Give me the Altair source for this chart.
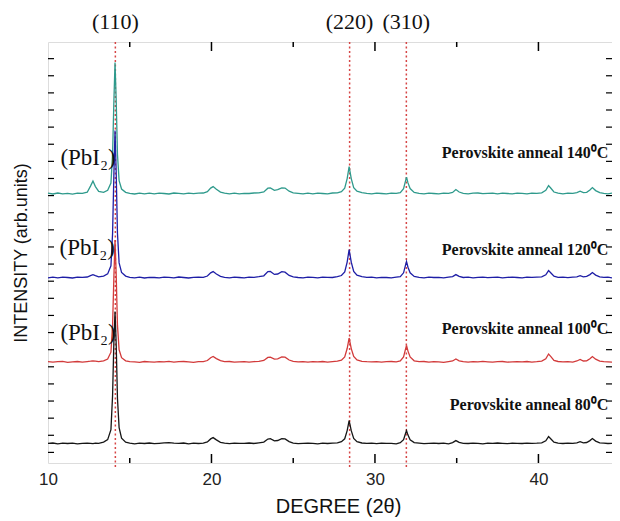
import altair as alt
import pandas as pd

# ---------------- data ----------------
X_DEG = [
    10.0, 10.3, 10.6, 10.9, 11.2, 11.5, 11.8, 12.1, 12.4, 12.6,
    12.75, 12.9, 13.1, 13.4, 13.65, 13.85, 13.95, 14.03, 14.1, 14.17,
    14.25, 14.35, 14.5, 14.75, 15.0, 15.3, 15.6, 15.9, 16.2, 16.5,
    16.8, 17.1, 17.4, 17.7, 18.0, 18.3, 18.6, 18.9, 19.2, 19.5,
    19.75, 19.95, 20.1, 20.3, 20.55, 20.8, 21.1, 21.4, 21.7, 22.0,
    22.3, 22.6, 22.9, 23.2, 23.45, 23.6, 23.85, 24.05, 24.3, 24.5,
    24.75, 25.0, 25.3, 25.6, 25.9, 26.2, 26.5, 26.8, 27.1, 27.4,
    27.7, 27.95, 28.15, 28.3, 28.42, 28.55, 28.7, 28.9, 29.2, 29.5,
    29.8, 30.1, 30.4, 30.7, 31.0, 31.3, 31.55, 31.75, 31.85, 31.93,
    32.02, 32.15, 32.4, 32.7, 33.0, 33.3, 33.6, 33.9, 34.2, 34.5,
    34.75, 34.95, 35.15, 35.4, 35.7, 36.0, 36.3, 36.6, 36.9, 37.2,
    37.5, 37.8, 38.1, 38.4, 38.7, 39.0, 39.3, 39.6, 39.9, 40.2,
    40.45, 40.62, 40.75, 40.95, 41.2, 41.5, 41.8, 42.1, 42.35, 42.55,
    42.75, 42.95, 43.15, 43.3, 43.5, 43.75, 44.0, 44.25, 44.5, 45.0,
]

I_80 = [
    0.2, 0.6, -0.3, 0.4, 0.1, 0.5, -0.2, 0.3, 0.4, 0.2,
    -0.1, 0.5, 0.3, 1.5, 4.0, 14, 48, 102, 132, 100,
    45, 16, 5.5, 1.5, 0.5, -0.2, 0.4, 0.1, 0.6, -0.1,
    0.3, 0.8, 1.0, 0.5, 0.2, 0.6, -0.2, 0.4, 0.1, 0.5,
    1.7, 4.7, 6.0, 3.7, 1.3, 0.4, -0.1, 0.5, 0.2, 0.3,
    0.6, 0.1, 0.8, 1.5, 4.6, 4.9, 2.7, 3.1, 5.0, 4.7,
    2.0, 0.5, -0.1, 0.3, 0.5, 0.2, -0.2, 0.4, 0.1, 0.5,
    0.8, 1.9, 4.8, 13, 23, 12.9, 5.2, 2.0, 0.6, 0.2,
    0.4, -0.1, 0.5, 0.2, 0.3, -0.2, 0.9, 4.0, 9.1, 13,
    8.5, 3.9, 1.0, 0.4, -0.1, 0.3, 0.5, 0.1, 0.4, -0.2,
    1.0, 3.0, 1.2, 0.3, 0.1, 0.5, 0.2, -0.2, 0.4, 0.3,
    0.6, 0.2, -0.1, 0.4, 0.3, 0.1, 0.5, 0.2, 0.4, 0.8,
    2.8, 7.0, 4.9, 1.4, 0.4, 0.1, 0.5, 0.2, 0.8, 2.0,
    0.8, 1.1, 3.0, 5.0, 2.5, 0.7, 0.4, 0.1, 0.3, 0.2,
]

I_100 = [
    0.4, -0.2, 0.3, 0.6, -0.3, 0.2, 0.5, -0.1, 0.4, 0.8,
    1.2, 0.9, 0.3, 1.2, 3.0, 9.8, 36.6, 85, 122, 88,
    36.6, 12.2, 4.3, 1.2, 0.4, 0.1, -0.3, 0.5, 0.2, -0.2,
    0.4, 0.1, 0.6, -0.2, 0.3, 0.5, 0.1, -0.3, 0.4, 0.3,
    1.5, 4.3, 5.5, 3.4, 1.3, 0.3, 0.5, -0.2, 0.2, 0.4,
    -0.1, 0.4, 0.7, 1.5, 4.6, 4.8, 2.8, 3.2, 5.0, 4.8,
    2.0, 0.6, 0.2, 0.4, -0.2, 0.3, 0.1, 0.5, -0.2, 0.4,
    0.8, 1.9, 5.0, 13.5, 24, 13.4, 5.5, 2.1, 0.7, 0.3,
    0.1, 0.4, -0.2, 0.3, 0.5, 0.1, 1.0, 5.1, 11.7, 16.7,
    10.9, 5.0, 1.2, 0.3, 0.5, -0.1, 0.3, 0.2, -0.3, 0.4,
    1.0, 3.0, 1.2, 0.3, -0.2, 0.4, 0.1, 0.6, 0.2, -0.1,
    0.3, 0.5, -0.2, 0.2, 0.4, 0.1, 0.5, -0.1, 0.3, 0.9,
    3.2, 8.0, 5.6, 1.6, 0.5, 0.2, 0.4, -0.1, 1.0, 2.5,
    1.0, 1.2, 3.3, 5.5, 2.8, 0.8, 0.4, 0.1, -0.2, 0.3,
]

I_120 = [
    -0.3, 0.5, -0.2, 0.4, 0.1, -0.4, 0.5, 0.3, 0.6, 2.0,
    3.0, 2.0, 0.8, 1.5, 3.7, 11.8, 44, 103, 147, 106,
    44, 14.7, 5.1, 1.5, 0.3, -0.2, 0.4, -0.4, 0.3, 0.1,
    -0.3, 0.5, 0.2, -0.2, 0.6, 0.1, -0.4, 0.3, 0.5, 0.2,
    1.6, 4.8, 6.0, 3.6, 1.2, 0.2, -0.3, 0.4, 0.1, -0.2,
    0.5, 0.3, 0.9, 1.8, 6.0, 6.2, 3.2, 3.6, 5.9, 5.4,
    2.2, 0.7, 0.1, -0.3, 0.4, 0.2, -0.2, 0.5, 0.3, 0.1,
    0.9, 2.1, 5.6, 15.5, 28, 15.4, 6.2, 2.4, 0.9, 0.2,
    0.5, -0.2, 0.3, 0.1, -0.3, 0.4, 0.9, 4.8, 11.2, 16,
    10.4, 4.8, 1.1, 0.3, -0.2, 0.5, 0.1, 0.3, -0.3, 0.4,
    1.0, 3.0, 1.2, 0.1, 0.4, -0.2, 0.3, 0.5, -0.1, 0.2,
    0.4, -0.3, 0.2, 0.5, 0.1, -0.2, 0.4, 0.2, 0.5, 0.7,
    2.8, 7.0, 4.9, 1.4, 0.3, 0.5, -0.1, 0.4, 0.8, 2.0,
    0.8, 1.2, 3.0, 5.0, 2.5, 0.8, 0.2, 0.4, -0.2, 0.3,
]

I_140 = [
    0.5, -0.4, 0.6, -0.2, 0.3, -0.5, 0.4, 0.2, 1.4, 7.5,
    12.5, 7.0, 2.2, 1.3, 3.3, 10.5, 39, 92, 131, 94,
    39, 13, 4.6, 1.3, 0.2, -0.4, 0.5, -0.3, 0.4, -0.2,
    0.5, 0.1, -0.4, 0.6, 0.2, -0.3, 0.5, -0.1, 0.4, 0.6,
    2.0, 5.5, 7.0, 4.3, 1.5, 0.4, -0.2, 0.5, -0.3, 0.3,
    0.1, 0.6, 0.8, 1.7, 5.4, 5.6, 3.3, 3.9, 5.8, 5.5,
    2.4, 0.8, 0.3, -0.3, 0.4, -0.2, 0.5, 0.1, -0.3, 0.6,
    0.8, 2.0, 5.4, 15, 27, 15, 6.0, 2.4, 1.0, 0.3,
    -0.2, 0.5, 0.1, -0.3, 0.4, 0.2, 1.0, 5.0, 11.5, 16.5,
    10.7, 5.0, 1.2, 0.2, -0.3, 0.4, 0.1, -0.2, 0.5, 0.3,
    1.2, 4.0, 1.6, 0.2, -0.3, 0.4, 0.6, -0.1, 0.3, 0.5,
    -0.2, 0.4, 0.1, -0.3, 0.5, 0.2, -0.2, 0.4, 0.3, 0.8,
    3.2, 8.0, 5.6, 1.6, 0.4, -0.2, 0.5, 0.3, 1.0, 2.5,
    1.0, 1.3, 3.6, 6.0, 3.0, 0.9, 0.3, -0.2, 0.4, 0.1,
]

SAMPLES = ["Perovskite anneal 80⁰C", "Perovskite anneal 100⁰C",
           "Perovskite anneal 120⁰C", "Perovskite anneal 140⁰C"]
OFFSETS = [19.4, 101.0, 185.4, 269.4]
COLORS = ["#161616", "#d23a3a", "#1e1ea6", "#2f9a8c"]
SAMPLE_LABEL_X = [44.28, 44.28, 44.28, 44.28]
SAMPLE_LABEL_Y = [57.7, 134.4, 212.7, 309.7]

HKL_POS = [14.12, 28.45, 31.92]
HKL_LABELS = ["(110)", "(220)", "(310)"]

PBI2_LABELS = ["(PbI₂)", "(PbI₂)", "(PbI₂)"]
PBI2_X = [12.45, 12.4, 12.45]
PBI2_Y = [129.7, 214.7, 304.7]

X_LABEL_TICKS = [10, 20, 30, 40]
X_MAJOR = [20, 30, 40]
X_MINOR = [15, 25, 35]
MAJOR_LEN, MINOR_LEN = 9, 5
Y_TICKS = [10.6 + 17.12 * k for k in range(24)]

# ---------------- layout ----------------
W, H = 564, 421
XDOM = [10, 44.5]
YDOM = [0, 421]

rows = []
for name, off, series in zip(SAMPLES, OFFSETS, [I_80, I_100, I_120, I_140]):
    for xv, iv in zip(X_DEG, series):
        rows.append({"x": xv, "y": iv + off, "sample": name})
df = pd.DataFrame(rows)

xs = alt.Scale(domain=XDOM, nice=False, zero=False)
ys = alt.Scale(domain=YDOM, nice=False, zero=False)

X_AXIS = alt.Axis(
    title="DEGREE (2θ)", values=X_LABEL_TICKS, format="d", ticks=False, tickSize=0,
    domain=False, grid=False, labelFlush=False, labelFont="Liberation Sans",
    labelFontSize=17, labelColor="#222", labelPadding=8, titleFont="Liberation Sans",
    titleFontSize=20, titleFontWeight="normal", titleColor="#111", titlePadding=9,
    titleX=290, titleAnchor="start", titleAlign="center")
Y_AXIS = alt.Axis(
    title="INTENSITY (arb.units)", labels=False, ticks=False, tickSize=0,
    domain=False, grid=False, titleFont="Liberation Sans", titleFontSize=18,
    titleFontWeight="normal", titleColor="#111", titlePadding=18)

# the visible window ends at 44.5 degrees
lines = alt.Chart(df).transform_filter(
    alt.datum.x <= XDOM[1]
).mark_line(strokeWidth=1.3).encode(
    x=alt.X("x:Q", scale=xs, axis=X_AXIS),
    y=alt.Y("y:Q", scale=ys, axis=Y_AXIS),
    color=alt.Color("sample:N", scale=alt.Scale(domain=SAMPLES, range=COLORS), legend=None),
    detail="sample:N",
)

hkl_df = pd.DataFrame({"x": HKL_POS, "label": HKL_LABELS})
vlines = alt.Chart(hkl_df).mark_rule(color="#d64545", strokeWidth=1.5, strokeDash=[2, 2.5]).encode(
    x=alt.X("x:Q", scale=xs, axis=X_AXIS),
    y=alt.value(0), y2=alt.value(H + 4),
)
hkl_text = alt.Chart(hkl_df).mark_text(
    font="Liberation Serif", fontSize=22, color="#111", baseline="alphabetic", align="center"
).encode(x=alt.X("x:Q", scale=xs, axis=X_AXIS), y=alt.value(-13), text="label:N")

lab_df = pd.DataFrame({"x": SAMPLE_LABEL_X, "y": SAMPLE_LABEL_Y, "label": SAMPLES})
sample_text = alt.Chart(lab_df).mark_text(
    font="Liberation Serif", fontSize=16, fontWeight="bold", color="#111",
    align="right", baseline="middle"
).encode(x=alt.X("x:Q", scale=xs, axis=X_AXIS), y=alt.Y("y:Q", scale=ys, axis=Y_AXIS),
         text="label:N")

pb_df = pd.DataFrame({"x": PBI2_X, "y": PBI2_Y, "label": PBI2_LABELS})
pb_text = alt.Chart(pb_df).mark_text(
    font="Liberation Serif", fontSize=23, color="#111", align="center", baseline="middle"
).encode(x=alt.X("x:Q", scale=xs, axis=X_AXIS), y=alt.Y("y:Q", scale=ys, axis=Y_AXIS),
         text="label:N")

# inward ticks on left / right edges
yt = pd.DataFrame({"y": Y_TICKS})
left_ticks = alt.Chart(yt).mark_rule(color="#000", strokeWidth=1.2).encode(
    y=alt.Y("y:Q", scale=ys, axis=Y_AXIS), x=alt.value(0), x2=alt.value(6))
right_ticks = alt.Chart(yt).mark_rule(color="#000", strokeWidth=1.2).encode(
    y=alt.Y("y:Q", scale=ys, axis=Y_AXIS), x=alt.value(W - 6), x2=alt.value(W))


# inward ticks on bottom / top edges: vertical tick marks centred half a length
# inside the frame (1 y unit == 1 px)
def edge_ticks(positions, length):
    t = []
    for xv in positions:
        t.append({"x": xv, "yc": YDOM[0] + length / 2})
        t.append({"x": xv, "yc": YDOM[1] - length / 2})
    return alt.Chart(pd.DataFrame(t)).mark_tick(
        color="#000", thickness=1.5, orient="vertical", size=length, opacity=1
    ).encode(
        x=alt.X("x:Q", scale=xs, axis=X_AXIS),
        y=alt.Y("yc:Q", scale=ys, axis=Y_AXIS),
    )


major_ticks = edge_ticks(X_MAJOR, MAJOR_LEN)
minor_ticks = edge_ticks(X_MINOR, MINOR_LEN)

chart = alt.layer(
    vlines, lines, hkl_text, sample_text, pb_text,
    left_ticks, right_ticks, major_ticks, minor_ticks,
).properties(
    width=W, height=H,
    autosize=alt.AutoSizeParams(type="none"),
    padding={"left": 40, "top": 34, "right": 0, "bottom": 56},
).configure_view(
    stroke="#000", strokeWidth=1.6
).configure(background="white")

chart.save("out.html", embed_options={"renderer": "svg", "actions": False})
